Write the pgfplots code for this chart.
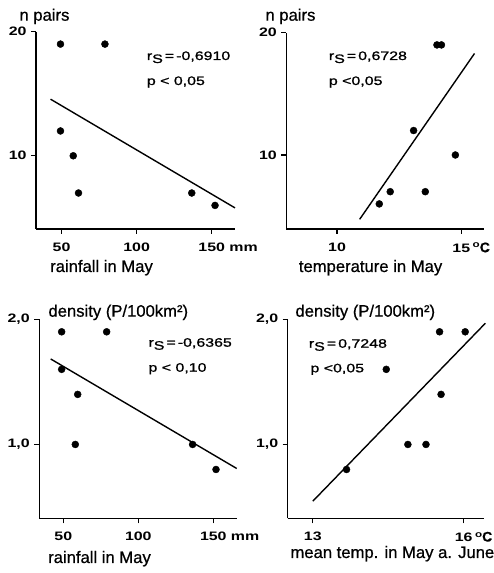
\documentclass[border=0pt]{standalone}
\usepackage{fontspec}
\setmainfont{Liberation Sans}
\newfontfamily\labfam[FakeBold=0.6]{Liberation Sans}
\newfontfamily\widefont[FakeStretch=1.3]{Liberation Sans}
\newfontfamily\widefontm[FakeStretch=1.3,FakeBold=1.2]{Liberation Sans}
\usepackage{pgfplots}
\pgfplotsset{compat=1.18}
\newcommand\tickf{\widefont\bfseries\fontsize{12.3}{13}\selectfont}
\newcommand\statf{\widefontm\fontsize{12.3}{14}\selectfont}
\newcommand\labf{\labfam\fontsize{16.7}{19}\selectfont}
\newcommand\degC{\rlap{\hspace{2.5bp}\raisebox{4.5bp}{\fontsize{9}{9}\selectfont o}\labfam\fontsize{14}{14}\selectfont C}}
\newcommand\rS{r\raisebox{-3bp}{S}}

\pgfplotsset{
  panel/.style={scale only axis, anchor=south west,
    axis x line*=bottom, axis y line*=left,
    axis line style={line width=1.4bp,-},
    tick align=outside, major tick length=5bp,
    every tick/.style={line width=1.2bp, black},
    tick label style={font=\tickf},
    xticklabel style={yshift=-5bp},
    yticklabel style={xshift=-1bp},
    /pgf/number format/assume math mode=true,
    clip=false},
  scat/.style={only marks, mark=*, mark size=3.5bp, black},
  reg/.style={no marks, line width=1.4bp, black}
}

\pgfplotstableread{
x y
49.3 19
78.9 19
49.3 12
57.8 10
61.3 7
136.7 7
152.2 6
}\rainpairs

\pgfplotstableread{
x y
14.02 19
14.2 19
13.08 12
14.76 10
12.14 7
13.55 7
11.7 6
}\temppairs

\pgfplotstableread{
x y
48.9 1.9
78.9 1.9
48.9 1.6
59.6 1.4
58.0 1.0
136.2 1.0
151.8 0.8
}\raindens

\pgfplotstableread{
x y
15.52 1.9
16.03 1.9
14.46 1.6
15.55 1.4
14.89 1.0
15.25 1.0
13.67 0.8
}\tempdens

\begin{document}
\begin{tikzpicture}[x=1bp,y=1bp]
\useasboundingbox (0,0) rectangle (494,573);

% panel 1
\begin{axis}[panel, at={(36bp,344bp)}, width=199bp, height=197.3bp,
  xmin=33, xmax=165.5, ymin=4.1, ymax=20,
  xtick={50,100,150}, xticklabels={50,100,150\rlap{ mm}},
  ytick={10,20}, yticklabels={10,20}]
\addplot[scat] table {\rainpairs};
\addplot[reg] coordinates {(42.7,14.56) (165.5,5.8)};
\end{axis}

% panel 2
\begin{axis}[panel, at={(286.3bp,344bp)}, width=197.4bp, height=196.3bp,
  xmin=7.96, xmax=15.9, ymin=3.95, ymax=20,
  xtick={10,15}, xticklabels={10,15\degC},
  ytick={10,20}, yticklabels={10,20}]
\addplot[scat] table {\temppairs};
\addplot[reg] coordinates {(10.91,4.74) (15.53,18.3)};
\end{axis}

% panel 3
\begin{axis}[panel, at={(39.3bp,54.7bp)}, width=197.7bp, height=199bp,
  xmin=34, xmax=165.8, ymin=0.41, ymax=2.0,
  xtick={50,100,150}, xticklabels={50,100,150\rlap{ mm}},
  ytick={1,2}, yticklabels={{1,0},{2,0}}]
\addplot[scat] table {\raindens};
\addplot[reg] coordinates {(41.6,1.683) (165.6,0.808)};
\end{axis}

% panel 4
\begin{axis}[panel, at={(287.7bp,54.7bp)}, width=196.6bp, height=199bp,
  xmin=12.5, xmax=16.41, ymin=0.41, ymax=2.0,
  xtick={13,16}, xticklabels={13,16\degC},
  ytick={1,2}, yticklabels={{1,0},{2,0}}]
\addplot[scat] table {\tempdens};
\addplot[reg] coordinates {(13.0,0.547) (16.43,1.968)};
\end{axis}

% axis titles
\node[anchor=base west, inner sep=0, font=\labf] at (19.3,552.3) {n pairs};
\node[anchor=base west, inner sep=0, font=\labf] at (265.3,552.3) {n pairs};
\node[anchor=base west, inner sep=0, font=\labf] at (50,301) {rainfall in May};
\node[anchor=base west, inner sep=0, font=\labf] at (298.7,301) {temperature in May};
\node[anchor=base west, inner sep=0, font=\labf] at (48.3,256.3) {density (P/100km²)};
\node[anchor=base west, inner sep=0, font=\labf] at (295.3,256.3) {density (P/100km²)};
\node[anchor=base west, inner sep=0, font=\labf] at (48,10) {rainfall in May};
\node[anchor=base west, inner sep=0, font=\labf] at (290.3,15) {mean temp. in May a. June};

% statistics
\node[anchor=base west, inner sep=0, font=\statf] at (146.7,513) {\rS\,=\,-0,6910};
\node[anchor=base west, inner sep=0, font=\statf] at (146.7,488) {p < 0,05};
\node[anchor=base west, inner sep=0, font=\statf] at (328.7,513) {\rS\,=\,0,6728};
\node[anchor=base west, inner sep=0, font=\statf] at (328.7,488) {p <0,05};
\node[anchor=base west, inner sep=0, font=\statf] at (148.3,226.3) {\rS\,=\,-0,6365};
\node[anchor=base west, inner sep=0, font=\statf] at (148.3,201.3) {p < 0,10};
\node[anchor=base west, inner sep=0, font=\statf] at (308.7,225.3) {\rS\,=\,0,7248};
\node[anchor=base west, inner sep=0, font=\statf] at (310.3,200.7) {p <0,05};
\end{tikzpicture}
\end{document}
